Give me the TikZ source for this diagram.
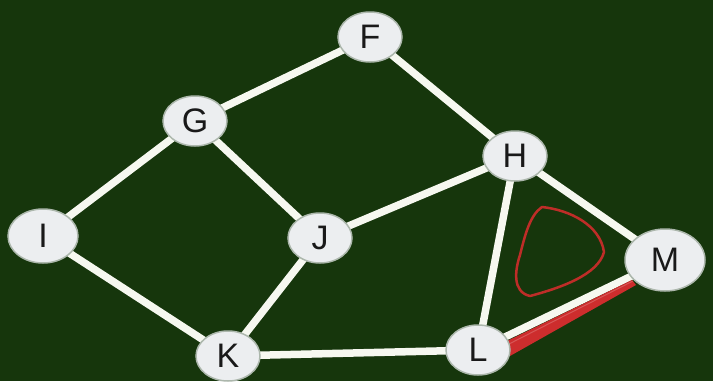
\documentclass[tikz,border=0pt]{standalone}
\usepackage{fontspec}
\setmainfont{Liberation Sans}
\usetikzlibrary{shapes.geometric}
\definecolor{bg}{RGB}{22,54,12}
\definecolor{nodefill}{RGB}{236,238,240}
\definecolor{edgecol}{RGB}{246,248,240}
\definecolor{redpen}{RGB}{205,45,45}
\definecolor{redloop}{RGB}{190,45,40}
\tikzset{
  vtx/.style={ellipse, fill=nodefill, draw=nodefill!70!bg, line width=1.5pt,
    minimum width=64pt, minimum height=50pt, inner sep=0pt,
    font=\fontsize{34}{34}\selectfont, text=black!90},
  bigvtx/.style={vtx, minimum width=80pt, minimum height=62pt},
  edge/.style={draw=edgecol, line width=7.5pt},
}
\begin{document}
\begin{tikzpicture}[x=1pt,y=-1pt]
\fill[bg] (0,0) rectangle (713,381);
\useasboundingbox (0,0) rectangle (713,381);
\coordinate (cF) at (370,37);
\coordinate (cG) at (195,121);
\coordinate (cH) at (515,156);
\coordinate (cI) at (43,236);
\coordinate (cJ) at (320,238);
\coordinate (cM) at (665,260);
\coordinate (cK) at (228,356);
\coordinate (cL) at (478,350);
% edges
\draw[edge] (cF) -- (cG);
\draw[edge] (cF) -- (cH);
\draw[edge] (cG) -- (cI);
\draw[edge] (cG) -- (cJ);
\draw[edge] (cH) -- (cJ);
\draw[edge] (cH) -- (cL);
\draw[edge] (cH) -- (cM);
\draw[edge] (cI) -- (cK);
\draw[edge] (cJ) -- (cK);
\draw[edge] (cK) -- (cL);
\draw[edge] (cL) -- (cM);
% red stroke over L--M
\fill[redpen] (503,343) -- (632,280) -- (636,285) -- (510,356) -- cycle;
\draw[redpen!80!white, line width=1pt] (505,346) -- (633,281);
% nodes
\node[vtx] (F) at (cF) {F};
\node[vtx] (G) at (cG) {G};
\node[vtx] (H) at (cH) {H};
\node[vtx, minimum width=70pt, minimum height=54pt] (I) at (cI) {I};
\node[vtx] (J) at (cJ) {J};
\node[bigvtx] (M) at (cM) {M};
\node[vtx] (K) at (cK) {K};
\node[vtx] (L) at (cL) {L};
% red loop
\draw[redloop, line width=2.5pt, line join=round]
  (542,207) .. controls (570,210) and (600,225) .. (604,252)
  .. controls (598,275) and (560,288) .. (530,296)
  .. controls (512,292) and (515,270) .. (520,255)
  .. controls (525,235) and (530,215) .. cycle;
\end{tikzpicture}
\end{document}
